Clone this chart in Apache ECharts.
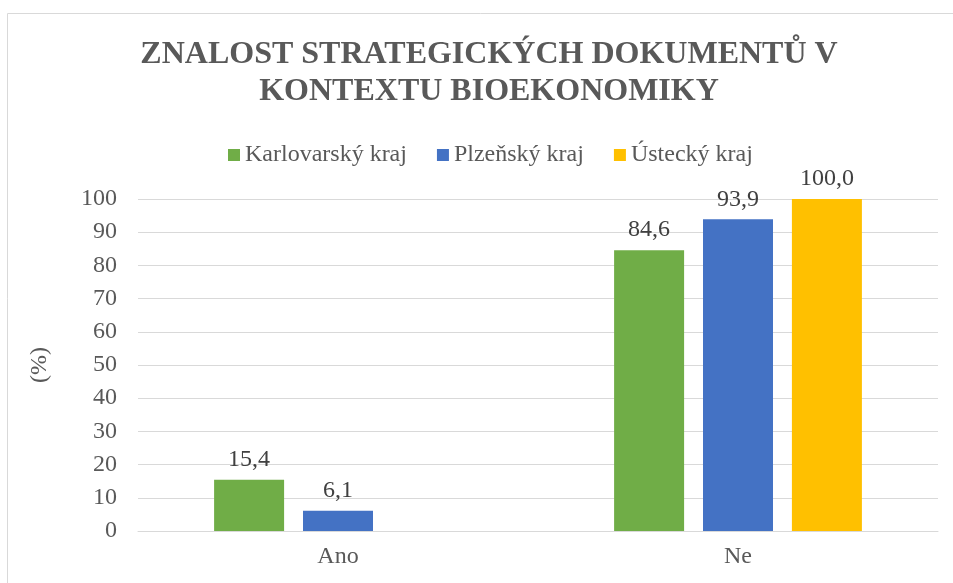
<!DOCTYPE html>
<html>
<head>
<meta charset="utf-8">
<script src="https://cdn.jsdelivr.net/npm/echarts@6/dist/echarts.min.js"></script>
<style>
  html, body { margin: 0; padding: 0; background: #fff; }
  #chart { width: 953px; height: 583px; }
</style>
</head>
<body>
<div id="chart"></div>
<script>
// data
var categories = ['Ano', 'Ne'];
var seriesNames = ['Karlovarský kraj', 'Plzeňský kraj', 'Ústecký kraj'];
var karlovarsky = [15.4, 84.6];
var plzensky = [6.1, 93.9];
var ustecky = [null, 100.0];
var colors = ['#70AD47', '#4472C4', '#FFC000'];
var yTicks = { min: 0, max: 100, interval: 10 };

var font = "'Liberation Serif', 'Times New Roman', serif";
var values = [karlovarsky, plzensky, ustecky];

var chart = echarts.init(document.getElementById('chart'));

var series = [];
values.forEach(function (data, i) {
    series.push({
        name: seriesNames[i],
        type: 'bar',
        data: data,
        barWidth: 70,
        barGap: '27%',
        itemStyle: { color: colors[i] },
        label: {
            show: true,
            position: 'top',
            distance: 8,
            color: '#404040',
            fontFamily: font,
            fontSize: 24,
            formatter: function (p) {
                return p.value.toFixed(1).replace('.', ',');
            }
        }
    });
});

chart.setOption({
    animation: false,
    color: colors,
    graphic: [
        {
            type: 'rect',
            shape: { x: 7.5, y: 13.5, width: 960, height: 600 },
            style: { fill: 'none', stroke: '#d9d9d9', lineWidth: 1 },
            silent: true
        },
        {
            type: 'text',
            x: 489,
            y: 36,
            style: {
                text: 'ZNALOST STRATEGICKÝCH DOKUMENTŮ V\nKONTEXTU BIOEKONOMIKY',
                font: 'bold 32px ' + font,
                fill: '#595959',
                textAlign: 'center',
                textVerticalAlign: 'top',
                lineHeight: 37
            }
        }
    ],
    legend: {
        data: seriesNames,
        left: 223,
        top: 138,
        itemWidth: 12,
        itemHeight: 12,
        itemGap: 30,
        icon: 'rect',
        textStyle: { color: '#595959', fontFamily: font, fontSize: 24 }
    },
    grid: { left: 138, right: 15, top: 199, bottom: 52 },
    xAxis: {
        type: 'category',
        data: categories,
        axisTick: { show: false },
        axisLine: { lineStyle: { color: '#d9d9d9' } },
        axisLabel: { color: '#595959', fontFamily: font, fontSize: 24, margin: 14 }
    },
    yAxis: {
        type: 'value',
        min: yTicks.min,
        max: yTicks.max,
        interval: yTicks.interval,
        name: '(%)',
        nameLocation: 'middle',
        nameGap: 86,
        nameRotate: 90,
        nameTextStyle: { color: '#595959', fontFamily: font, fontSize: 24 },
        axisLine: { show: false },
        axisTick: { show: false },
        splitLine: { lineStyle: { color: '#d9d9d9' } },
        axisLabel: { color: '#595959', fontFamily: font, fontSize: 24, margin: 21 }
    },
    series: series
});
</script>
</body>
</html>
